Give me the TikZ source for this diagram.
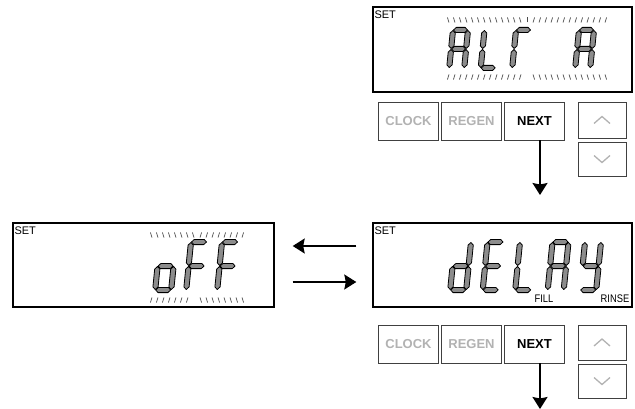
\documentclass[tikz,border=0pt]{standalone}
\usepackage{fontspec}
\usepackage{graphicx}
\setmainfont{Liberation Sans}
\usetikzlibrary{arrows.meta}
\tikzset{
	box/.style = {draw, line width=1.4pt, inner sep=0pt},
	btn/.style = {draw=black!75, line width=0.8pt, inner sep=0pt, minimum width=60pt, minimum height=38pt, font=\fontsize{13}{13}\selectfont\bfseries},
	dim/.style = {text=black!30},
	updn/.style = {draw=black!75, line width=0.8pt, inner sep=0pt, minimum width=48pt},
	chev/.style = {draw=black!30, line width=1.3pt},
	seg/.style = {fill=black!45, draw=black, line width=0.8pt, line join=round},
	tick/.style = {draw=black!70, line width=0.7pt},
	flow/.style = {-{Stealth[length=12pt,width=15pt,inset=1.5pt]}, line width=1.4pt},
	lbl/.style = {inner sep=0pt, font=\fontsize{11}{11}\selectfont},
	ind/.style = {inner sep=0pt, font=\fontsize{11}{11}\selectfont}
}
\def\st{2.6}
\def\gp{0.5}
\newcommand\hseg[3]{\filldraw[seg] (#1,#3) -- (#1+\st,#3-\st) -- (#2-\st,#3-\st) -- (#2,#3) -- (#2-\st,#3+\st) -- (#1+\st,#3+\st) -- cycle;}
\newcommand\vseg[3]{\filldraw[seg] (#1,#2) -- (#1+\st,#2+\st) -- (#1+\st,#3-\st) -- (#1,#3) -- (#1-\st,#3-\st) -- (#1-\st,#2+\st) -- cycle;}
\newcommand\sga{\hseg{\gp}{\dw-\gp}{0}}
\newcommand\sgb{\vseg{\dw}{\gp}{\dh/2-\gp}}
\newcommand\sgc{\vseg{\dw}{\dh/2+\gp}{\dh-\gp}}
\newcommand\sgd{\hseg{\gp}{\dw-\gp}{\dh}}
\newcommand\sge{\vseg{0}{\dh/2+\gp}{\dh-\gp}}
\newcommand\sgf{\vseg{0}{\gp}{\dh/2-\gp}}
\newcommand\sgg{\hseg{\gp}{\dw-\gp}{\dh/2}}
\newcommand\digit[5]{%
	\begin{scope}[shift={(#1,#2)}, xslant=0.1]
		\def\dw{#3}\def\dh{#4}
		\foreach \s in {#5} {\csname sg\s\endcsname}
	\end{scope}}
\newcommand\hashrow[5]{%
	\foreach \k in {0,...,#2} {
		\pgfmathsetmacro\hx{#1+6*\k}
		\pgfmathsetmacro\hs{1.6*sign(\hx-#5)}
		\draw[tick] (\hx,#3-2.5*#4) -- (\hx+\hs,#3+2.5*#4);
	}}

\begin{document}
\begin{tikzpicture}[x=1pt, y=-1pt]
	\useasboundingbox (0,0) rectangle (635,409);

	% displays
	\node[box, minimum width=259pt, minimum height=85pt] (disp1) at (502.5,49.5) {};
	\node[box, minimum width=259pt, minimum height=84pt] (disp2) at (502.5,265) {};
	\node[box, minimum width=261pt, minimum height=84pt] (disp3) at (143.5,265) {};
	\node[lbl, anchor=north west] (set1) at ([xshift=2pt,yshift=-4pt]disp1.north west) {SET};
	\node[lbl, anchor=north west] (set2) at ([xshift=2pt,yshift=-4pt]disp2.north west) {SET};
	\node[lbl, anchor=north west] (set3) at ([xshift=2pt,yshift=-4pt]disp3.north west) {SET};
	\node[ind] (fill2) at (544,299) {\scalebox{0.85}[1]{FILL}};
	\node[ind] (rinse2) at (615,299) {\scalebox{0.85}[1]{RINSE}};

	% ALr A
	\hashrow{449}{26}{20}{-1}{527}
	\hashrow{449}{12}{77}{1}{527}
	\hashrow{533}{12}{77}{1}{527}
	\digit{453}{30}{15}{38}{a,b,c,e,f,g}
	\digit{484.5}{30}{15}{38}{d,e,f}
	\digit{516}{30}{15}{38}{a,e,f}
	\digit{579}{30}{15}{38}{a,b,c,e,f,g}

	% dELAY
	\digit{455}{242}{16}{48}{b,c,d,e,g}
	\digit{487.5}{242}{16}{48}{a,d,e,f,g}
	\digit{520}{242}{16}{48}{d,e,f}
	\digit{552.5}{242}{16}{48}{a,b,c,e,f,g}
	\digit{585}{242}{16}{48}{b,c,d,f,g}

	% oFF
	\hashrow{152}{15}{235}{-1}{197}
	\hashrow{152}{6}{300}{1}{197}
	\hashrow{200}{7}{300}{1}{197}
	\digit{160}{242}{16}{48}{c,d,e,g}
	\digit{191}{242}{16}{48}{a,e,f,g}
	\digit{222}{242}{16}{48}{a,e,f,g}

	% buttons
	\node[btn, dim] (clock1) at (408.5,121) {CLOCK};
	\node[btn, dim] (regen1) at (471.5,121) {REGEN};
	\node[btn] (next1) at (534.5,121) {NEXT};
	\node[updn, minimum height=36pt] (up1) at (602,120) {};
	\node[updn, minimum height=34pt] (down1) at (602,159) {};
	\node[btn, dim] (clock2) at (408.5,344) {CLOCK};
	\node[btn, dim] (regen2) at (471.5,344) {REGEN};
	\node[btn] (next2) at (534.5,344) {NEXT};
	\node[updn, minimum height=35pt] (up2) at (602,342.5) {};
	\node[updn, minimum height=34pt] (down2) at (602,381) {};
	\foreach \b in {up1,up2} {
		\draw[chev] ([xshift=-8pt,yshift=-3.5pt]\b.center) -- ([yshift=3.5pt]\b.center) -- ([xshift=8pt,yshift=-3.5pt]\b.center);
	}
	\foreach \b in {down1,down2} {
		\draw[chev] ([xshift=-8pt,yshift=3.5pt]\b.center) -- ([yshift=-3.5pt]\b.center) -- ([xshift=8pt,yshift=3.5pt]\b.center);
	}

	% arrows
	\coordinate (end1) at (540,195);
	\coordinate (end2) at (540,409);
	\draw[flow] ([xshift=5.5pt]next1.south) -- (end1);
	\draw[flow] ([xshift=5.5pt]next2.south) -- (end2);
	\draw[flow] ([xshift=-16pt,yshift=19pt]disp2.west) -- ([xshift=18pt,yshift=19pt]disp3.east);
	\draw[flow] ([xshift=18pt,yshift=-17pt]disp3.east) -- ([xshift=-16pt,yshift=-17pt]disp2.west);
\end{tikzpicture}
\end{document}
